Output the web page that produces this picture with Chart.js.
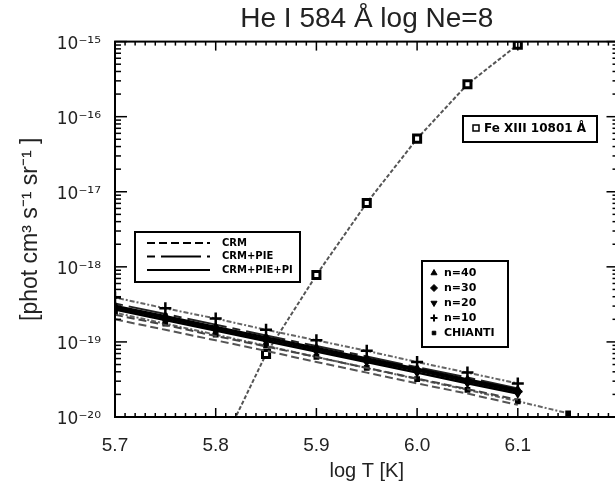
<!DOCTYPE html>
<html>
<head>
<meta charset="utf-8">
<script src="https://cdn.jsdelivr.net/npm/chart.js@4.4.1/dist/chart.umd.min.js"></script>
<style>
  html, body { margin: 0; padding: 0; background: #fff; overflow: hidden; }
  #wrap { position: relative; width: 627px; height: 483px; }
</style>
</head>
<body>
<div id="wrap"><canvas id="heChart"></canvas></div>
<script>
// log T grid of the He I curves
const logT = [5.70, 5.75, 5.80, 5.85, 5.90, 5.95, 6.00, 6.05, 6.10];
const logTChianti = [5.70, 5.75, 5.80, 5.85, 5.90, 5.95, 6.00, 6.05, 6.10, 6.15];

// CRM+PIE+PI, solid
const n40 = [3.0e-19, 2.2e-19, 1.58e-19, 1.15e-19, 8.3e-20, 6.0e-20, 4.4e-20, 3.15e-20, 2.3e-20];
const n30 = [2.85e-19, 2.08e-19, 1.5e-19, 1.09e-19, 7.9e-20, 5.7e-20, 4.15e-20, 3.0e-20, 2.18e-20];
const n20 = [2.7e-19, 1.96e-19, 1.42e-19, 1.03e-19, 7.45e-20, 5.4e-20, 3.9e-20, 2.82e-20, 2.05e-20];
// n=10 sits above the others
const n10 = [3.9e-19, 2.8e-19, 2.05e-19, 1.45e-19, 1.05e-19, 7.6e-20, 5.4e-20, 3.9e-20, 2.8e-20];
// CRM+PIE, long dash
const crmPie = [3.25e-19, 2.35e-19, 1.7e-19, 1.22e-19, 8.8e-20, 6.4e-20, 4.6e-20, 3.35e-20, 2.4e-20];
// CRM only, dashed
const crmA = [2.3e-19, 1.68e-19, 1.2e-19, 8.7e-20, 6.3e-20, 4.5e-20, 3.25e-20, 2.35e-20, 1.7e-20];
const crmB = [2.0e-19, 1.45e-19, 1.05e-19, 7.6e-20, 5.4e-20, 3.9e-20, 2.8e-20, 2.05e-20, 1.45e-20];
const chianti = [2.45e-19, 1.75e-19, 1.25e-19, 8.9e-20, 6.3e-20, 4.5e-20, 3.2e-20, 2.3e-20, 1.62e-20, 1.12e-20];

// Fe XIII 10801 A
const feT = [5.80, 5.85, 5.90, 5.95, 6.00, 6.05, 6.10];
const feXIII = [2.8e-21, 6.9e-20, 7.8e-19, 7.1e-18, 5.1e-17, 2.7e-16, 9.1e-16];

const xTicks = [5.7, 5.8, 5.9, 6.0, 6.1];
const legendLines = ['CRM', 'CRM+PIE', 'CRM+PIE+PI'];
const legendN = ['n=40', 'n=30', 'n=20', 'n=10', 'CHIANTI'];
const feLabel = 'Fe XIII 10801 Å';

const pts = (xs, ys) => xs.map((x, i) => ({ x: x, y: ys[i] }));
const sup = { '-': '⁻', '0': '⁰', '1': '¹', '2': '²', '3': '³', '4': '⁴', '5': '⁵', '6': '⁶', '7': '⁷', '8': '⁸', '9': '⁹' };

const DASH = [8, 4];
const LONGDASH = [8, 6, 40, 6];
const DASHDOT = [2, 2, 5, 2];
const FONT = '"Liberation Sans", Arial, sans-serif';

function line(label, xs, ys, color, dash, marker, extra) {
    return Object.assign({
        label: label,
        data: pts(xs, ys),
        borderColor: color,
        backgroundColor: '#000',
        borderWidth: 2,
        borderDash: dash,
        pointStyle: marker || false,
        pointRadius: marker ? 4 : 0,
        pointBorderColor: '#000',
        pointBackgroundColor: '#000',
        pointBorderWidth: 1.5,
        tension: 0
    }, extra || {});
}

const datasets = [
    line('CRM b', logT, crmB, '#555', DASH),
    line('CRM a', logT, crmA, '#444', DASH),
    line('CHIANTI', logTChianti, chianti, '#666', DASHDOT, 'rect', { pointRadius: 3 }),
    line('n=20', logT, n20, '#000', [], 'triangle', { pointRotation: 180, borderWidth: 2.5 }),
    line('n=30', logT, n30, '#000', [], 'rectRot', { borderWidth: 2.5 }),
    line('n=40', logT, n40, '#000', [], 'triangle', { borderWidth: 2.5 }),
    line('CRM+PIE', logT, crmPie, '#222', LONGDASH),
    line('n=10', logT, n10, '#666', DASHDOT, 'cross', { pointRadius: 6, pointBorderWidth: 2.5 }),
    line('Fe XIII', feT, feXIII, '#555', [4, 2], 'rect', {
        pointRadius: 5, pointBackgroundColor: '#fff', pointBorderWidth: 3
    })
];

// IDL style frame: inward ticks on all four sides, plus the three legend boxes
const framePlugin = {
    id: 'frame',
    afterDraw(chart) {
        const { ctx, chartArea: a, scales: { x, y } } = chart;
        const seg = (x1, y1, x2, y2) => { ctx.beginPath(); ctx.moveTo(x1, y1); ctx.lineTo(x2, y2); ctx.stroke(); };
        ctx.save();
        ctx.strokeStyle = '#000';
        ctx.lineWidth = 1.5;
        for (let k = 0; k <= 50; k++) {
            const px = x.getPixelForValue(5.7 + k * 0.01);
            const len = k % 10 === 0 ? 9 : 4;
            seg(px, a.bottom, px, a.bottom - len);
            seg(px, a.top, px, a.top + len);
        }
        for (let d = -20; d <= -15; d++) {
            for (let m = 1; m <= 9; m++) {
                if (d === -15 && m > 1) break;
                const py = y.getPixelForValue(m * Math.pow(10, d));
                const len = m === 1 ? 12 : 6;
                seg(a.left, py, a.left + len, py);
                seg(a.right, py, a.right - len, py);
            }
        }
        ctx.lineWidth = 2;
        ctx.strokeRect(a.left, a.top, a.right - a.left, a.bottom - a.top);

        // legend: line styles
        ctx.lineWidth = 2;
        ctx.strokeRect(135, 232, 165, 50);
        const dashes = [DASH, LONGDASH, []];
        ctx.fillStyle = '#000';
        ctx.textBaseline = 'middle';
        ctx.font = 'bold 10px "DejaVu Sans"';
        legendLines.forEach((t, i) => {
            const ly = 243 + i * 13.5;
            ctx.setLineDash(dashes[i]);
            seg(147, ly, 210, ly);
            ctx.setLineDash([]);
            ctx.fillText(t, 222, ly);
        });

        // legend: density markers
        ctx.strokeRect(422, 261, 86, 86);
        const marks = [['triangle', 0], ['rectRot', 0], ['triangle', 180], ['cross', 0], ['rect', 0]];
        ctx.font = 'bold 11px "DejaVu Sans"';
        legendN.forEach((t, i) => {
            const ly = 273 + i * 15;
            ctx.lineWidth = marks[i][0] === 'cross' ? 2 : 1;
            Chart.helpers.drawPoint(ctx, {
                pointStyle: marks[i][0], rotation: marks[i][1],
                radius: marks[i][0] === 'rect' ? 2.5 : 3.5, borderWidth: 1
            }, 434, ly);
            ctx.fillText(t, 444, ly);
        });

        // legend: Fe XIII
        ctx.lineWidth = 2;
        ctx.strokeRect(463, 116, 134, 26);
        ctx.lineWidth = 1.5;
        ctx.strokeRect(473, 125, 6, 6);
        ctx.font = 'bold 12px "DejaVu Sans"';
        ctx.fillText(feLabel, 484, 129);
        ctx.restore();
    }
};

new Chart(document.getElementById('heChart'), {
    type: 'line',
    data: { datasets: datasets },
    options: {
        responsive: true,
        maintainAspectRatio: false,
        animation: false,
        layout: { padding: 0 },
        plugins: {
            legend: { display: false },
            tooltip: { enabled: false },
            title: {
                display: true,
                text: 'He I 584 Å log Ne=8',
                fullSize: false,
                color: '#222',
                font: { family: FONT, size: 28, weight: 'normal' },
                padding: { top: 2, bottom: 6 }
            }
        },
        scales: {
            x: {
                type: 'linear',
                min: 5.7,
                max: 6.2,
                afterBuildTicks: s => { s.ticks = xTicks.map(v => ({ value: v })); },
                afterFit: s => { s.height = 66; },
                grid: { display: false, drawTicks: false },
                border: { display: false },
                ticks: {
                    color: '#222', padding: 17, maxRotation: 0,
                    font: { family: FONT, size: 19 },
                    callback: v => v.toFixed(1)
                },
                title: {
                    display: true, text: 'log T [K]', color: '#222',
                    font: { family: FONT, size: 20 },
                    padding: { top: 0, bottom: 0 }
                }
            },
            y: {
                type: 'logarithmic',
                min: 1e-20,
                max: 1e-15,
                afterFit: s => { s.width = 115; },
                grid: { display: false, drawTicks: false },
                border: { display: false },
                ticks: {
                    color: '#222', padding: 14, labelOffset: 3,
                    font: { family: '"DejaVu Sans"', size: 17 },
                    callback: v => {
                        const e = Math.log10(v);
                        if (Math.abs(e - Math.round(e)) > 1e-6) return '';
                        return '10' + String(Math.round(e)).split('').map(c => sup[c]).join('');
                    }
                },
                title: {
                    display: true, text: '[phot cm³ s⁻¹ sr⁻¹ ]', color: '#222',
                    font: { family: FONT, size: 23 },
                    padding: { top: 17, bottom: 0 }
                }
            }
        }
    },
    plugins: [framePlugin]
});
</script>
</body>
</html>
